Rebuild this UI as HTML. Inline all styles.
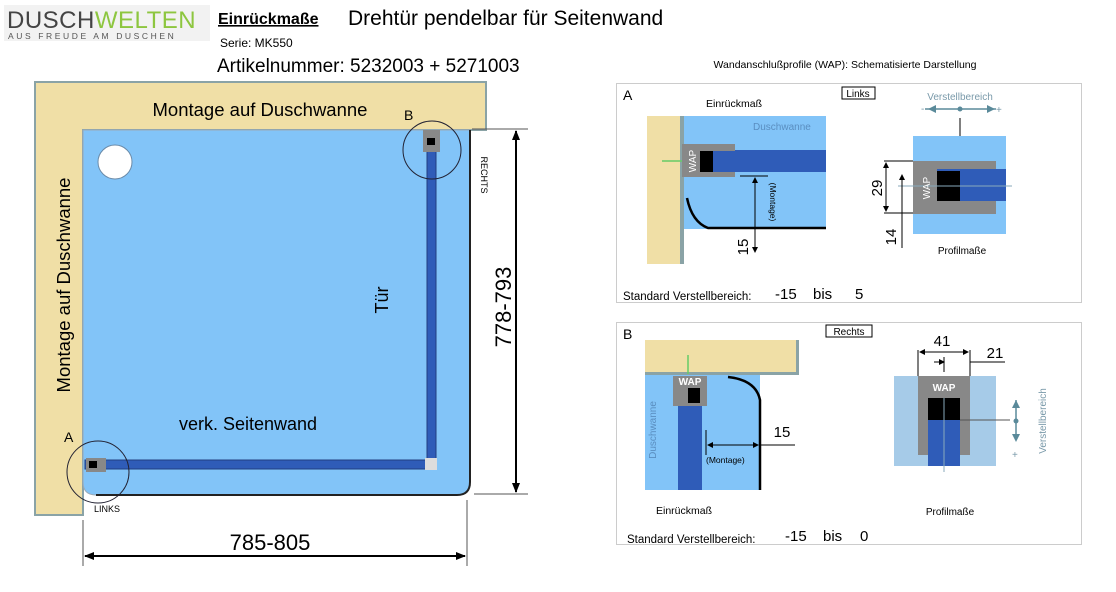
<!DOCTYPE html>
<html><head><meta charset="utf-8"><style>
html,body{margin:0;padding:0;background:#fff;width:1116px;height:592px;overflow:hidden}
svg text{font-family:"Liberation Sans",sans-serif}
</style></head><body>
<svg width="1116" height="592" viewBox="0 0 1116 592" xmlns="http://www.w3.org/2000/svg">
<defs>
<marker id="ah" markerWidth="10" markerHeight="8" refX="9" refY="4" orient="auto-start-reverse" markerUnits="userSpaceOnUse"><path d="M0,0 L10,4 L0,8 z" fill="#000"/></marker>
<marker id="sa" markerWidth="6" markerHeight="6" refX="5" refY="3" orient="auto-start-reverse" markerUnits="userSpaceOnUse"><path d="M0,0 L6,3 L0,6 z" fill="#000"/></marker>
</defs>
<!-- header -->
<rect x="4" y="5" width="206" height="36" fill="#f2f2f2"/>
<text x="7" y="28" font-size="24" fill="#444" letter-spacing="0.5">DUSCH<tspan fill="#8dc63f">WELTEN</tspan></text>
<text x="8" y="39" font-size="8.5" fill="#555" letter-spacing="2.6">AUS FREUDE AM DUSCHEN</text>
<text x="218" y="24" font-size="16" font-weight="bold" text-decoration="underline">Einrückmaße</text>
<text x="348" y="25" font-size="21">Drehtür pendelbar für Seitenwand</text>
<text x="220" y="47" font-size="12">Serie:  MK550</text>
<text x="217" y="72" font-size="19">Artikelnummer: 5232003 + 5271003</text>
<!-- main drawing -->
<path d="M35,82 H486 V130 H83 V515 H35 Z" fill="#f0dfa6" stroke="#8aa3a6" stroke-width="2"/>
<path d="M83,130 H470 V482 Q470,495 457,495 H96 Q83,495 83,482 Z" fill="#82c4f8" stroke="#9aaab8" stroke-width="1"/>
<path d="M470,130 V482 Q470,495 457,495 H96" fill="none" stroke="#222" stroke-width="2"/>
<circle cx="115" cy="162" r="17" fill="#fff" stroke="#6a8aa8"/>
<text x="260" y="116" font-size="18.5" text-anchor="middle">Montage auf Duschwanne</text>
<text transform="translate(70,285) rotate(-90)" font-size="18.5" text-anchor="middle">Montage auf Duschwanne</text>
<rect x="427" y="135" width="9" height="330" fill="#2f5cb8" stroke="#223e80"/>
<rect x="85" y="460" width="345" height="9" fill="#2f5cb8" stroke="#223e80"/>
<rect x="423" y="130" width="17" height="22" fill="#888"/>
<rect x="427" y="138" width="8" height="7" fill="#000"/>
<rect x="86" y="458" width="20" height="14" fill="#888"/>
<rect x="89" y="461" width="8" height="7" fill="#000"/>
<rect x="425" y="458" width="12" height="12" fill="#ddd"/>
<circle cx="432" cy="150" r="29" fill="none" stroke="#223"/>
<circle cx="98" cy="472" r="31" fill="none" stroke="#223"/>
<text x="404" y="120" font-size="14">B</text>
<text x="64" y="442" font-size="14">A</text>
<text x="94" y="512" font-size="9">LINKS</text>
<text transform="translate(481,175) rotate(90)" font-size="9" text-anchor="middle">RECHTS</text>
<text transform="translate(388,300) rotate(-90)" font-size="18" text-anchor="middle">Tür</text>
<text x="248" y="430" font-size="18" text-anchor="middle">verk. Seitenwand</text>
<!-- dims -->
<line x1="472" y1="129" x2="528" y2="129" stroke="#555"/>
<line x1="474" y1="494" x2="528" y2="494" stroke="#555"/>
<line x1="516" y1="131" x2="516" y2="492" stroke="#000" stroke-width="2" marker-start="url(#ah)" marker-end="url(#ah)"/>
<text transform="translate(511,307) rotate(-90)" font-size="22" text-anchor="middle">778-793</text>
<line x1="83" y1="520" x2="83" y2="566" stroke="#555"/>
<line x1="467" y1="500" x2="467" y2="566" stroke="#555"/>
<line x1="85" y1="556" x2="465" y2="556" stroke="#000" stroke-width="2" marker-start="url(#ah)" marker-end="url(#ah)"/>
<text x="270" y="550" font-size="22" text-anchor="middle">785-805</text>
<!-- right title -->
<text x="845" y="68" font-size="10.5" text-anchor="middle">Wandanschlußprofile (WAP): Schematisierte Darstellung</text>
<!-- panel A -->
<rect x="616.5" y="83.5" width="465" height="219" fill="#fff" stroke="#ccc"/>
<text x="623" y="100" font-size="14">A</text>
<text x="706" y="107" font-size="10.5">Einrückmaß</text>
<rect x="842" y="87" width="33" height="12" fill="#fff" stroke="#000"/>
<text x="858" y="97" font-size="10" text-anchor="middle">Links</text>
<rect x="647" y="116" width="33" height="148" fill="#f0dfa6"/>
<rect x="680" y="116" width="4" height="148" fill="#8aa3a6"/>
<rect x="684" y="116" width="142" height="113" fill="#82c4f8"/>
<text x="753" y="130" font-size="10" fill="#5a8ec0">Duschwanne</text>
<rect x="735" y="150" width="91" height="22" fill="#2f5cb8"/>
<rect x="682" y="144" width="53" height="33" fill="#888"/>
<rect x="700" y="151" width="13" height="21" fill="#000"/>
<rect x="713" y="151" width="22" height="21" fill="#2f5cb8"/>
<text transform="translate(696,161) rotate(-90)" font-size="10" fill="#fff" text-anchor="middle">WAP</text>
<line x1="662" y1="161" x2="682" y2="161" stroke="#6c6" stroke-width="1.5"/>
<path d="M687,198 Q692,222 708,228 H826" fill="none" stroke="#000" stroke-width="2.5"/>
<line x1="740" y1="176" x2="768" y2="176" stroke="#000"/>
<line x1="755" y1="178" x2="755" y2="252" stroke="#000" marker-start="url(#sa)" marker-end="url(#sa)"/>
<text transform="translate(770,202) rotate(90)" font-size="8.5" text-anchor="middle">(Montage)</text>
<text transform="translate(748,247) rotate(-90)" font-size="15" text-anchor="middle">15</text>
<text x="960" y="100" font-size="10" fill="#7a9aaa" text-anchor="middle">Verstellbereich</text>
<line x1="925" y1="109" x2="996" y2="109" stroke="#5a8a9a" stroke-width="1.5"/>
<path d="M928,109 l8,-4 v8z M995,109 l-8,-4 v8z" fill="#5a8a9a"/>
<circle cx="960" cy="109" r="2.5" fill="#5a8a9a"/>
<text x="921" y="112" font-size="10" fill="#7a9aaa">-</text><text x="996" y="113" font-size="10" fill="#7a9aaa">+</text>
<line x1="960" y1="118" x2="960" y2="185" stroke="#000"/>
<rect x="913" y="136" width="93" height="98" fill="#82c4f8"/>
<rect x="913" y="161" width="83" height="53" fill="#888"/>
<rect x="937" y="169" width="69" height="32" fill="#2f5cb8"/>
<rect x="937" y="171" width="23" height="30" fill="#000"/>
<line x1="898" y1="186" x2="1012" y2="186" stroke="#8ab"/>
<text transform="translate(930,188) rotate(-90)" font-size="10" fill="#fff" text-anchor="middle">WAP</text>
<line x1="884" y1="161" x2="913" y2="161" stroke="#000"/>
<line x1="884" y1="213" x2="913" y2="213" stroke="#000"/>
<line x1="886" y1="163" x2="886" y2="211" stroke="#000" marker-start="url(#sa)" marker-end="url(#sa)"/>
<line x1="902" y1="175" x2="902" y2="248" stroke="#000" marker-start="url(#sa)"/>
<text transform="translate(882,188) rotate(-90)" font-size="15" text-anchor="middle">29</text>
<text transform="translate(896,237) rotate(-90)" font-size="15" text-anchor="middle">14</text>
<text x="962" y="254" font-size="10" text-anchor="middle">Profilmaße</text>
<text x="623" y="300" font-size="11.5">Standard Verstellbereich:</text>
<text x="775" y="299" font-size="15">-15</text><text x="813" y="299" font-size="15">bis</text><text x="855" y="299" font-size="15">5</text>
<!-- panel B -->
<rect x="616.5" y="322.5" width="465" height="222" fill="#fff" stroke="#ccc"/>
<text x="623" y="339" font-size="14">B</text>
<rect x="826" y="325" width="46" height="12" fill="#fff" stroke="#000"/>
<text x="849" y="335" font-size="10" text-anchor="middle">Rechts</text>
<rect x="645" y="340" width="153" height="32" fill="#f0dfa6"/>
<rect x="645" y="372" width="153" height="3" fill="#8aa3a6"/>
<rect x="796" y="340" width="3" height="35" fill="#8aa3a6"/>
<rect x="645" y="375" width="115" height="115" fill="#82c4f8"/>
<rect x="678" y="403" width="24" height="87" fill="#2f5cb8"/>
<rect x="673" y="376" width="34" height="30" fill="#888"/>
<rect x="688" y="388" width="12" height="15" fill="#000"/>
<text x="690" y="385" font-size="10" fill="#fff" text-anchor="middle" font-weight="bold">WAP</text>
<line x1="688" y1="355" x2="688" y2="374" stroke="#6c6" stroke-width="1.5"/>
<path d="M728,377 Q756,380 760,400 V490" fill="none" stroke="#000" stroke-width="2.5"/>
<line x1="706" y1="430" x2="706" y2="455" stroke="#000"/>
<line x1="708" y1="445" x2="758" y2="445" stroke="#000" marker-start="url(#sa)" marker-end="url(#sa)"/>
<line x1="760" y1="445" x2="795" y2="445" stroke="#000"/>
<text x="782" y="437" font-size="15" text-anchor="middle">15</text>
<text x="706" y="463" font-size="8.5">(Montage)</text>
<text transform="translate(656,430) rotate(-90)" font-size="10" fill="#5a8ec0" text-anchor="middle">Duschwanne</text>
<text x="684" y="514" font-size="10.5" text-anchor="middle">Einrückmaß</text>
<rect x="894" y="376" width="102" height="90" fill="#a6cbe8"/>
<rect x="918" y="376" width="52" height="79" fill="#888"/>
<rect x="928" y="398" width="32" height="68" fill="#2f5cb8"/>
<rect x="928" y="398" width="32" height="22" fill="#000"/>
<line x1="944" y1="398" x2="944" y2="472" stroke="#8ab"/>
<line x1="960" y1="420" x2="1010" y2="420" stroke="#555"/>
<text x="944" y="391" font-size="10" fill="#fff" text-anchor="middle" font-weight="bold">WAP</text>
<line x1="918" y1="350" x2="918" y2="376" stroke="#000"/>
<line x1="970" y1="350" x2="970" y2="376" stroke="#000"/>
<line x1="920" y1="352" x2="968" y2="352" stroke="#000" marker-start="url(#sa)" marker-end="url(#sa)"/>
<line x1="944" y1="357" x2="944" y2="372" stroke="#000"/>
<line x1="934" y1="362" x2="944" y2="362" stroke="#000" marker-end="url(#sa)"/>
<line x1="970" y1="362" x2="1005" y2="362" stroke="#000"/>
<text x="942" y="346" font-size="15" text-anchor="middle">41</text>
<text x="995" y="358" font-size="15" text-anchor="middle">21</text>
<line x1="1016" y1="400" x2="1016" y2="440" stroke="#5a8a9a" stroke-width="1.5"/>
<path d="M1016,400 l-4,8 h8z M1016,442 l-4,-8 h8z" fill="#5a8a9a"/>
<circle cx="1016" cy="421" r="2.5" fill="#5a8a9a"/>
<text transform="translate(1046,421) rotate(-90)" font-size="10" fill="#7a9aaa" text-anchor="middle">Verstellbereich</text>
<text x="1012" y="458" font-size="10" fill="#7a9aaa">+</text>
<text x="950" y="515" font-size="10" text-anchor="middle">Profilmaße</text>
<text x="627" y="543" font-size="11.5">Standard Verstellbereich:</text>
<text x="785" y="541" font-size="15">-15</text><text x="823" y="541" font-size="15">bis</text><text x="860" y="541" font-size="15">0</text>
</svg>
</body></html>
